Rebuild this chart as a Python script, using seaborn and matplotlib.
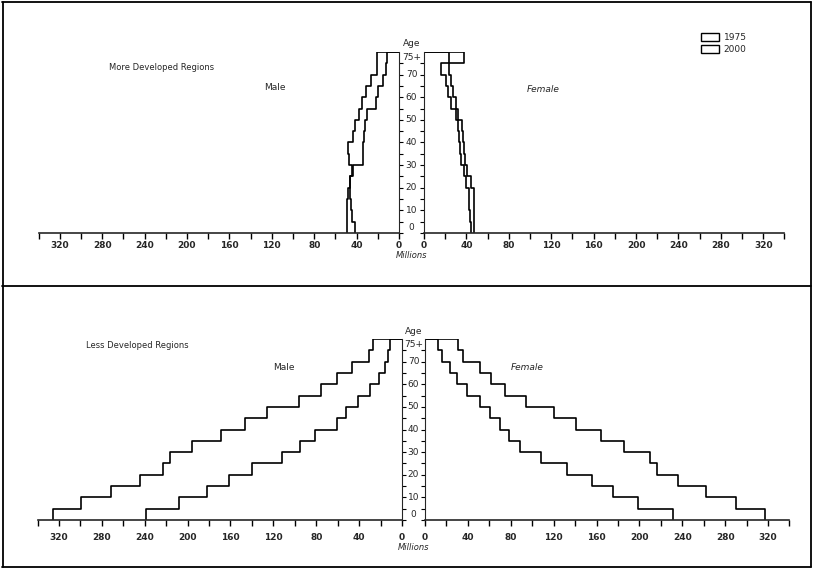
import numpy as np
import pandas as pd
import seaborn as sns
import matplotlib.pyplot as plt
from matplotlib.patches import Patch
from matplotlib.lines import Line2D
from matplotlib.transforms import blended_transform_factory

# --- age groups (5-year bands, last one is 75+) ---
age_edges = list(range(0, 85, 5))
age_mid = [a + 2.5 for a in range(0, 80, 5)]
age_label_pos = [2.5, 10, 20, 30, 40, 50, 60, 70, 77.5]
age_labels = ["0", "10", "20", "30", "40", "50", "60", "70", "75+"]
x_major = list(range(0, 321, 40))
x_minor = list(range(0, 341, 20))

# --- population in millions (age 0-4 ... 75+) ---
mdr_male_1975 = [41.5, 44.7, 45.6, 46.2, 46.2, 43.0, 34.0, 34.0, 33.0, 32.0, 30.0, 22.0, 20.0, 15.5, 12.0, 11.6]
mdr_male_2000 = [48.8, 48.8, 48.8, 48.0, 46.0, 44.7, 47.0, 47.8, 43.0, 41.5, 37.4, 35.2, 31.0, 26.0, 21.0, 21.0]
mdr_female_1975 = [44.0, 43.5, 42.5, 42.0, 40.0, 38.0, 35.0, 33.5, 33.0, 32.0, 30.0, 25.0, 22.5, 20.5, 16.5, 23.5]
mdr_female_2000 = [47.0, 47.0, 47.5, 47.5, 44.0, 41.0, 38.5, 38.0, 36.5, 35.5, 32.0, 30.0, 27.0, 25.5, 24.0, 38.0]

ldr_male_1975 = [239, 208, 182, 161, 140, 112, 95, 81, 61, 52, 41, 30, 21, 16, 13, 11]
ldr_male_2000 = [326, 299, 271, 244, 223, 216, 196, 169, 146, 126, 96, 76, 61, 47, 31, 27]
ldr_female_1975 = [231, 199, 175, 156, 132, 108, 89, 78, 70, 61, 51, 39, 30, 23, 16, 12.5]
ldr_female_2000 = [317, 290, 262, 236, 216, 210, 186, 164, 141, 120, 94, 75, 62, 51, 35, 31]

W, H = 813, 570
sns.set_style("white")
plt.rcParams['font.family'] = ['DejaVu Sans']
fig = plt.figure(figsize=(W / 100, H / 100), dpi=100)


def fx(px):
    return px / W


def fy(py):
    return 1 - py / H


def side(rect, values_list, invert, pad):
    ax = fig.add_axes(rect)
    for vals in values_list:
        sns.histplot(y=age_mid, weights=vals, bins=age_edges, element="step",
                     fill=False, color="black", linewidth=1.2, ax=ax)
        # close the outline along the top of the 75+ band
        ax.hlines(age_edges[-1], 0, vals[-1], color="black", linewidth=1.2)
    ax.set_ylim(0, 80)
    ax.set_xlim(0, 340)
    if invert:
        ax.invert_xaxis()
    ax.set_xticks(x_major)
    ax.set_xticks(x_minor, minor=True)
    ax.set_xticklabels([str(v) for v in x_major], fontsize=6.5, fontweight="bold")
    ax.tick_params(axis="x", which="both", direction="out", length=4, width=1,
                   color="black", pad=pad, bottom=True)
    ax.set_yticks(list(range(0, 80, 5)))
    ax.set_yticklabels([])
    ax.set_xlabel("")
    ax.set_ylabel("")
    for s in ax.spines.values():
        s.set_visible(False)
    ax.spines["bottom"].set_visible(True)
    ax.spines["bottom"].set_linewidth(1.2)
    if invert:
        ax.spines["right"].set_visible(True)
        ax.yaxis.set_ticks_position("right")
    else:
        ax.spines["left"].set_visible(True)
        ax.yaxis.set_ticks_position("left")
    ax.tick_params(axis="y", length=3, width=0.8, color="black", direction="out")
    ax.patch.set_alpha(0)
    return ax


def panel(y_axis, y_top, c_left, c_right, title, title_xy, male_xy, female_xy,
          male_vals, female_vals, px_per_m, pad, mill_dy):
    h = (y_axis - y_top) / H
    b = 1 - y_axis / H
    left_px = c_left - 340 * px_per_m
    axm = side([fx(left_px), b, fx(c_left) - fx(left_px), h], male_vals, True, pad)
    axf = side([fx(c_right), b, 340 * px_per_m / W, h], female_vals, False, pad)
    cx = (c_left + c_right) / 2
    tr = blended_transform_factory(fig.transFigure, axf.transData)
    for pos, lab in zip(age_label_pos, age_labels):
        axf.text(fx(cx), pos, lab, transform=tr, ha="center", va="center", fontsize=6.5)
    fig.text(fx(cx), fy(y_top - 8), "Age", ha="center", va="center", fontsize=6.5)
    fig.text(fx(cx), fy(y_axis + mill_dy), "Millions", ha="center", va="center",
             fontsize=6, style="italic")
    fig.text(fx(title_xy[0]), fy(title_xy[1]), title, ha="center", va="center", fontsize=6)
    fig.text(fx(male_xy[0]), fy(male_xy[1]), "Male", ha="center", va="center", fontsize=6.5)
    fig.text(fx(female_xy[0]), fy(female_xy[1]), "Female", ha="center", va="center",
             fontsize=6.5, style="italic")


panel(233, 52, 399, 424, "More Developed Regions", (162, 67), (275, 88), (543, 90),
      [mdr_male_1975, mdr_male_2000], [mdr_female_1975, mdr_female_2000], 1.06, 2, 22)
panel(520, 339, 402, 425, "Less Developed Regions", (137, 345), (284, 367), (527, 368),
      [ldr_male_1975, ldr_male_2000], [ldr_female_1975, ldr_female_2000], 1.072, 5, 28)

# --- panel frames ---
for y in (1.5, 286, 567):
    fig.add_artist(Line2D([fx(2), fx(811)], [fy(y), fy(y)], color="black", lw=1.3))
for x in (2.5, 810.5):
    fig.add_artist(Line2D([fx(x), fx(x)], [fy(1.5), fy(567)], color="black", lw=1.3))

handles = [Patch(facecolor="white", edgecolor="black", linewidth=1) for _ in range(2)]
fig.legend(handles, ["1975", "2000"], loc="upper left", bbox_to_anchor=(fx(693), fy(25)),
           frameon=False, fontsize=6.5, handlelength=2.0, handleheight=1.0,
           labelspacing=0.3, handletextpad=0.5)

fig.savefig("out.png", dpi=100)
